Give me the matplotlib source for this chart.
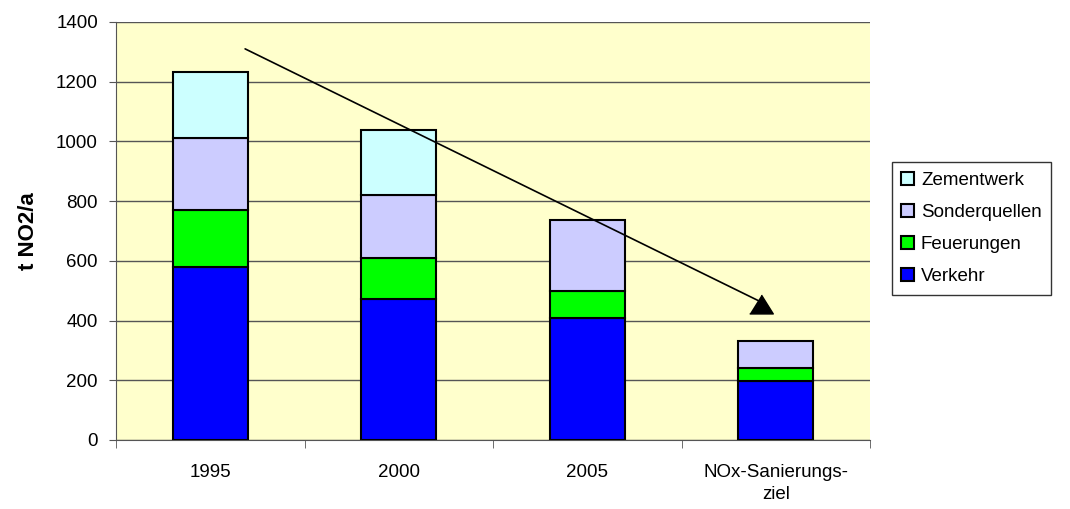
import matplotlib.pyplot as plt
import numpy as np

plt.rcParams['font.family'] = ['Liberation Sans', 'DejaVu Sans']

kategorien = ["1995", "2000", "2005", "NOx-Sanierungs-\nziel"]
verkehr = [578, 472, 409, 196]
feuerungen = [194, 137, 91, 45]
sonderquellen = [240, 211, 238, 90]
zementwerk = [220, 219, 0, 0]

serien = [("Verkehr", verkehr, "#0000FF"),
          ("Feuerungen", feuerungen, "#00FF00"),
          ("Sonderquellen", sonderquellen, "#CCCCFF"),
          ("Zementwerk", zementwerk, "#CCFFFF")]

fig = plt.figure(figsize=(10.7, 5.09), dpi=100)
ax = fig.add_axes([116/1070, 1 - 440/509, 754/1070, 418/509])
ax.set_facecolor("#FFFFCC")

x = np.arange(len(kategorien))
unten = np.zeros(len(kategorien))
handles = []
for name, werte, farbe in serien:
    werte = np.array(werte, dtype=float)
    mask = werte > 0
    b = ax.bar(x[mask], werte[mask], 0.4, bottom=unten[mask], color=farbe,
               edgecolor="black", linewidth=1.5, label=name, zorder=3)
    handles.append(b)
    unten += werte

ax.set_xlim(-0.5, 3.5)
ax.set_ylim(0, 1400)
ax.set_yticks(np.arange(0, 1401, 200))
ax.yaxis.grid(True, color="#555555", linewidth=1, zorder=0)
ax.set_axisbelow(True)
ax.set_xticks(x)
ax.set_xticklabels(kategorien, fontsize=13.5, linespacing=1.45)
ax.tick_params(axis='x', length=0, pad=17)
ax.set_xticks(np.arange(-0.5, 4, 1), minor=True)
ax.tick_params(axis='x', which='minor', length=6, color="#555555")
ax.tick_params(axis='y', labelsize=13.5, length=5, color="#555555", pad=8)
for s in ["top", "right"]:
    ax.spines[s].set_visible(False)
ax.spines["left"].set_color("#555555")
ax.spines["bottom"].set_color("#555555")
ax.set_ylabel("t NO2/a", fontsize=16, fontweight="bold", labelpad=12)

# Trendpfeil: Linie plus aufrechtes Dreieck
ax.annotate("", xy=(2.91, 466), xytext=(0.185, 1310),
            arrowprops=dict(arrowstyle="-", color="black", linewidth=1.2,
                            shrinkA=0, shrinkB=0),
            zorder=5)
ax.plot([2.92], [457], marker=[(-1.25, -1), (1.25, -1), (0, 1)],
        markersize=17, color="black", linestyle="none", zorder=6)

leg = ax.legend(handles[::-1], [s[0] for s in serien][::-1],
                loc="center left", bbox_to_anchor=(1.029, 0.506),
                fontsize=13.5, frameon=True, fancybox=False, edgecolor="black",
                handlelength=0.7, handleheight=0.7, handletextpad=0.35,
                borderpad=0.5, labelspacing=0.8, borderaxespad=0)
leg.get_frame().set_linewidth(1)

fig.savefig("out.png", dpi=100)
